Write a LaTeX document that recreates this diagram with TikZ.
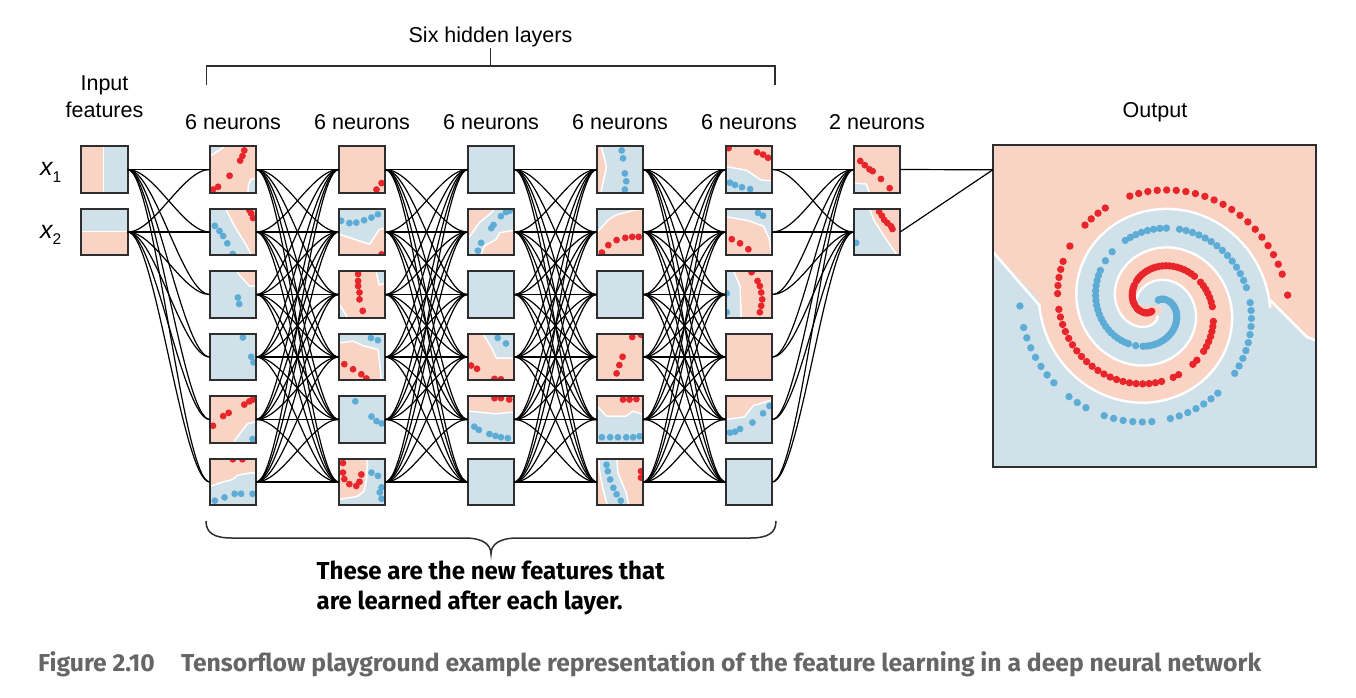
\documentclass[tikz,border=0pt]{standalone}
\usepackage{fontspec}
\setmainfont{Liberation Sans}
\newfontfamily\notefont{Fira Sans}
\usetikzlibrary{calc}
\definecolor{pch}{HTML}{F9D3C3}
\definecolor{lbl}{HTML}{D1E1EA}
\definecolor{dred}{HTML}{E8252A}
\definecolor{dblue}{HTML}{5CACD6}
\definecolor{bordc}{HTML}{2E2E2E}
\definecolor{capgray}{HTML}{666666}
\newcommand{\fmap}[5]{%
  \node[fmbox, fill=#4] (#1) at (#2,#3) {};
  \begin{scope}[shift={(#1.north west)}, x=46pt, y=-46pt]
    \clip (0,0) rectangle (1,1);
    #5
  \end{scope}
  \draw[bordr] (#1.north west) rectangle (#1.south east);
}
\newcommand{\rds}[1]{\foreach \u/\v in {#1} {\fill[dred] (\u,\v) circle[radius=3.4pt];}}
\newcommand{\bds}[1]{\foreach \u/\v in {#1} {\fill[dblue] (\u,\v) circle[radius=3.4pt];}}
\newcommand{\preg}[1]{\filldraw[fill=pch, draw=white, line width=1.5pt, line join=round] #1;}
\newcommand{\breg}[1]{\filldraw[fill=lbl, draw=white, line width=1.5pt, line join=round] #1;}
\begin{document}
\begin{tikzpicture}[x=1pt,y=-1pt,
  fmbox/.style={minimum width=46pt, minimum height=46pt, inner sep=0pt, draw=none},
  bordr/.style={draw=bordc, line width=1.8pt},
  link/.style={draw=black, line width=1.2pt},
  brk/.style={draw=bordc, line width=1.5pt},
  txt/.style={font=\fontsize{21.5}{25}\selectfont, inner sep=0pt, anchor=base}]
\useasboundingbox (0,0) rectangle (1356,697);
\fill[white] (0,0) rectangle (1356,697);

% ---------- labels ----------
\node[txt] (tsix) at (490.5,42) {Six hidden layers};
\node[txt] (tin1) at (104.5,90) {Input};
\node[txt] (tin2) at (104.5,117) {features};
\node[txt] (tout) at (1155,117) {Output};
\foreach \c/\xx in {1/233,2/362,3/491,4/620,5/749} {\node[txt] (tn\c) at (\xx,129) {6 neurons};}
\node[txt] (tn6) at (877,129) {2 neurons};
\node[txt, anchor=base west] (lx1) at (40,175.5) {\fontsize{25}{26}\selectfont\itshape x\raisebox{-6.5pt}{\fontsize{15.5}{15}\selectfont\upshape 1}};
\node[txt, anchor=base west] (lx2) at (40,238) {\fontsize{25}{26}\selectfont\itshape x\raisebox{-6.5pt}{\fontsize{15.5}{15}\selectfont\upshape 2}};

% ---------- brackets ----------
\draw[brk] (206.5,85) -- (206.5,66) -- (775,66) -- (775,85);
\draw[brk] (490.5,66) -- (490.5,48);
\draw[brk] (206,521) .. controls (206,533) and (214,538) .. (232,538) -- (465,538)
  .. controls (482,538) and (491,544) .. (491,554)
  .. controls (491,544) and (500,538) .. (517,538) -- (750,538)
  .. controls (768,538) and (776,533) .. (776,521);

\node[anchor=base west, inner sep=0pt] (note1) at (316.4,579) {\resizebox{348pt}{\height}{\notefont\bfseries\fontsize{24.5}{26}\selectfont These are the new features that}};
\node[anchor=base west, inner sep=0pt] (note2) at (316.4,609) {\resizebox{306pt}{\height}{\notefont\bfseries\fontsize{24.5}{26}\selectfont are learned after each layer.}};
\node[anchor=base west, inner sep=0pt, text=capgray] (cap) at (38,671) {\resizebox{1223pt}{\height}{\notefont\bfseries\fontsize{24.5}{26}\selectfont Figure 2.10\hspace{26pt}Tensorflow playground example representation of the feature learning in a deep neural network}};

% ---------- input ----------
\fmap{in1}{104.5}{169.5}{lbl}{\preg{(-0.1,-0.1) -- (0.48,-0.1) -- (0.48,1.1) -- (-0.1,1.1) -- cycle}}
\fmap{in2}{104.5}{232}{lbl}{\preg{(-0.1,0.49) -- (1.1,0.49) -- (1.1,1.1) -- (-0.1,1.1) -- cycle}}

% ---------- layer 1 ----------
\fmap{h11}{233}{169.5}{pch}{\breg{(-0.1,-0.1) -- (0.3,-0.1) -- (0.28,0.04) -- (0.04,0.19) -- (-0.1,0.22) -- cycle}
  \breg{(1.1,0.68) -- (0.89,0.72) -- (0.84,0.85) -- (0.82,1.1) -- (1.1,1.1) -- cycle}
  \rds{0.75/0.09,0.71/0.21,0.66/0.31,0.43/0.64,0.18/0.88,0.07/0.94}}
\fmap{h12}{233}{232}{lbl}{\preg{(0.33,-0.1) -- (1.1,-0.1) -- (1.1,1.1) -- (0.95,1.1) -- (0.8,0.8) -- (0.55,0.4) -- (0.37,0.05) -- cycle}
  \rds{0.86/0.03,0.9/0.1,0.94/0.2} \bds{0.11/0.37,0.21/0.48,0.29/0.59,0.38/0.75,0.5/0.98}}
\fmap{h13}{233}{294.5}{lbl}{\preg{(0.55,-0.1) -- (1.1,-0.1) -- (1.1,0.33) -- (0.86,0.32) -- (0.62,0.05) -- cycle}
  \bds{0.61/0.57,0.64/0.71}}
\fmap{h14}{233}{357}{lbl}{\bds{0.72/0.08,0.9/0.5,0.95/0.62}}
\fmap{h15}{233}{419.5}{pch}{\breg{(0.5,1.1) -- (0.55,0.95) -- (0.7,0.75) -- (0.82,0.6) -- (1.1,0.52) -- (1.1,1.1) -- cycle}
  \rds{0.07/0.64,0.29/0.43,0.41/0.36,0.75/0.18,0.86/0.11,0.94/0.07} \bds{0.93/0.93}}
\fmap{h16}{233}{482}{lbl}{\preg{(-0.1,-0.1) -- (1.1,-0.1) -- (1.1,0.33) -- (0.9,0.3) -- (0.6,0.36) -- (0.5,0.45) -- (0.3,0.5) -- (0,0.6) -- (-0.1,0.6) -- cycle}
  \rds{0.5/0.01,0.71/0.01} \bds{0.11/0.91,0.32/0.84,0.54/0.76,0.68/0.76,0.93/0.76}}

% ---------- layer 2 ----------
\fmap{h21}{362}{169.5}{pch}{\rds{0.93/0.8,0.82/0.94}}
\fmap{h22}{362}{232}{lbl}{\preg{(-0.1,0.55) -- (0,0.55) -- (0.67,0.77) -- (0.88,0.45) -- (1.1,0.4) -- (1.1,1.1) -- (-0.1,1.1) -- cycle}
  \bds{0.05/0.26,0.23/0.31,0.38/0.3,0.55/0.25,0.71/0.19,0.85/0.12} \rds{0.93/0.99}}
\fmap{h23}{362}{294.5}{pch}{\breg{(0.8,-0.1) -- (1.1,-0.1) -- (1.1,0.22) -- (0.88,0.3) -- (0.82,0.05) -- cycle}
  \breg{(-0.1,0.7) -- (0,0.7) -- (0.25,1.1) -- (-0.1,1.1) -- cycle}
  \rds{0.42/0.06,0.42/0.21,0.42/0.32,0.45/0.46,0.45/0.61,0.52/0.86}}
\fmap{h24}{362}{357}{pch}{\breg{(-0.1,-0.1) -- (1.1,-0.1) -- (1.1,1.1) -- (0.93,1.1) -- (0.89,0.66) -- (0.85,0.34) -- (0.56,0.27) -- (0.31,0.16) -- (0,0.2) -- (-0.1,0.2) -- cycle}
  \bds{0.7/0.09,0.85/0.14} \rds{0.12/0.66,0.31/0.77,0.49/0.88,0.6/0.97}}
\fmap{h25}{362}{419.5}{lbl}{\bds{0.36/0.11,0.71/0.44,0.82/0.54,0.93/0.59}}
\fmap{h26}{362}{482}{lbl}{\preg{(-0.1,-0.1) -- (0.6,-0.1) -- (0.62,0.1) -- (0.6,0.45) -- (0.55,0.7) -- (0.4,0.82) -- (0,0.88) -- (-0.1,0.88) -- cycle}
  \rds{0.09/0.09,0.09/0.3,0.12/0.44,0.23/0.55,0.38/0.59,0.45/0.5,0.49/0.34}
  \bds{0.71/0.3,0.85/0.37,0.93/0.62,0.89/0.73,0.93/0.87}}

% ---------- layer 3 ----------
\fmap{h31}{491}{169.5}{lbl}{}
\fmap{h32}{491}{232}{pch}{\breg{(-0.1,0.68) -- (0,0.66) -- (0.25,0.3) -- (0.54,0.06) -- (0.6,-0.1) -- (1.1,-0.1) -- (1.1,0.45) -- (0.69,0.52) -- (0.62,0.66) -- (0.36,0.81) -- (0.25,1.1) -- (-0.1,1.1) -- cycle}
  \bds{0.22/0.91,0.29/0.74,0.51/0.42,0.56/0.35,0.72/0.16,0.83/0.07,0.91/0.04}}
\fmap{h33}{491}{294.5}{lbl}{}
\fmap{h34}{491}{357}{pch}{\breg{(0.3,-0.1) -- (1.1,-0.1) -- (1.1,0.53) -- (0.62,0.53) -- (0.54,0.35) -- (0.33,0) -- cycle}
  \bds{0.65/0.09,0.83/0.21} \rds{0.07/0.69,0.2/0.76,0.58/0.98,0.72/0.99}}
\fmap{h35}{491}{419.5}{lbl}{\preg{(-0.1,-0.1) -- (1.1,-0.1) -- (1.1,0.33) -- (0.6,0.38) -- (0,0.32) -- (-0.1,0.32) -- cycle}
  \rds{0.58/0.04,0.72/0.04,0.9/0.07} \bds{0.14/0.66,0.24/0.73,0.47/0.82,0.6/0.86,0.72/0.89,0.87/0.91}}
\fmap{h36}{491}{482}{lbl}{}

% ---------- layer 4 ----------
\fmap{h41}{620}{169.5}{lbl}{\preg{(-0.1,-0.1) -- (0.07,-0.1) -- (0.21,0.44) -- (0.07,1.1) -- (-0.1,1.1) -- cycle}
  \bds{0.54/0.09,0.57/0.26,0.61/0.59,0.64/0.76,0.61/0.94}}
\fmap{h42}{620}{232}{lbl}{\preg{(-0.1,0.55) -- (0,0.52) -- (0.25,0.24) -- (0.43,0.13) -- (0.82,0.03) -- (1.1,0) -- (1.1,1.1) -- (-0.1,1.1) -- cycle}
  \rds{0.11/0.95,0.25/0.79,0.43/0.68,0.62/0.63,0.77/0.61,0.91/0.61}}
\fmap{h43}{620}{294.5}{lbl}{}
\fmap{h44}{620}{357}{pch}{\rds{0.96/0.02,0.77/0.07,0.56/0.5,0.49/0.68,0.43/0.86}}
\fmap{h45}{620}{419.5}{lbl}{\preg{(-0.1,-0.1) -- (1.1,-0.1) -- (1.1,0.43) -- (0.79,0.32) -- (0.64,0.43) -- (0.21,0.43) -- (0,0.21) -- (-0.1,0.21) -- cycle}
  \rds{0.57/0.07,0.71/0.07,0.86/0.06} \bds{0.11/0.89,0.29/0.89,0.46/0.89,0.64/0.89,0.79/0.89,0.93/0.87}}
\fmap{h46}{620}{482}{pch}{\breg{(0.05,-0.1) -- (0.43,-0.1) -- (0.46,0.31) -- (0.64,0.74) -- (0.71,1.1) -- (0.25,1.1) -- (0.12,0.6) -- (0.05,0.2) -- cycle}
  \bds{0.21/0.13,0.24/0.27,0.29/0.45,0.36/0.63,0.43/0.77,0.52/0.91} \rds{0.96/0.27,0.96/0.41}}

% ---------- layer 5 ----------
\fmap{h51}{749}{169.5}{pch}{\breg{(-0.1,0.42) -- (0.45,0.52) -- (0.76,0.73) -- (1.1,0.76) -- (1.1,1.1) -- (-0.1,1.1) -- cycle}
  \rds{0.06/0.04,0.68/0.13,0.81/0.18,0.92/0.25} \bds{0.09/0.79,0.2/0.84,0.35/0.89,0.53/0.93}}
\fmap{h52}{749}{232}{pch}{\breg{(-0.1,-0.1) -- (1.1,-0.1) -- (1.1,1.1) -- (1,1.1) -- (0.95,0.66) -- (0.82,0.38) -- (0.5,0.26) -- (0,0.17) -- (-0.1,0.17) -- cycle}
  \bds{0.7/0.09,0.81/0.15} \rds{0.13/0.66,0.31/0.75,0.49/0.88}}
\fmap{h53}{749}{294.5}{pch}{\breg{(-0.1,-0.1) -- (0.13,-0.1) -- (0.31,0.32) -- (0.34,1.1) -- (-0.1,1.1) -- cycle}
  \rds{0.56/0.02,0.69/0.21,0.74/0.32,0.77/0.46,0.79/0.61,0.77/0.75,0.74/0.89} \bds{0.02/0.48,0.02/0.89}}
\fmap{h54}{749}{357}{pch}{}
\fmap{h55}{749}{419.5}{lbl}{\preg{(-0.1,-0.1) -- (1.1,-0.1) -- (1.1,0.05) -- (0.6,0.2) -- (0.4,0.45) -- (0,0.5) -- (-0.1,0.5) -- cycle}
  \bds{0.09/0.79,0.2/0.77,0.31/0.71,0.58/0.57,0.81/0.37,0.95/0.21}}
\fmap{h56}{749}{482}{lbl}{}

% ---------- output layer ----------
\fmap{o1}{877}{169.5}{pch}{\breg{(-0.1,0.79) -- (0.27,0.82) -- (0.37,1.1) -- (-0.1,1.1) -- cycle}
  \rds{0.14/0.32,0.24/0.41,0.34/0.5,0.41/0.54,0.59/0.71,0.78/0.91}}
\fmap{o2}{877}{232}{lbl}{\preg{(0.32,-0.1) -- (1.1,-0.1) -- (1.1,1.1) -- (1,1.1) -- (0.66,0.6) -- (0.45,0.27) -- (0.34,0) -- cycle}
  \rds{0.55/0.06,0.61/0.15,0.66/0.24,0.73/0.31,0.81/0.38,0.84/0.44} \bds{0.05/0.74}}

% ---------- big output ----------
\node[minimum width=323pt, minimum height=322pt, inner sep=0pt, draw=none] (out) at (1154.5,306) {};
\begin{scope}
  \clip (out.north west) rectangle (out.south east);
  \fill[lbl] (out.north west) rectangle (out.south east);
  \fill[pch] (993,145) -- (1316,145) -- (1316,340) -- (1307,337) -- (1273,300) -- (1040,300) -- (993,252) -- cycle;
  \draw[pch, line width=38.5pt] plot[domain=0:1, samples=160, variable=\s]
     ({1154.5+134.6*\s*sin(180+630*\s)}, {306-134.6*\s*cos(180+630*\s)});
  \draw[white, line width=41pt, line join=round] plot[domain=0:1, samples=160, variable=\s]
     ({1154.5+134.6*\s*sin(630*\s)}, {306-134.6*\s*cos(630*\s)});
  \draw[lbl, line width=36pt, line join=round] plot[domain=0:1, samples=160, variable=\s]
     ({1154.5+134.6*\s*sin(630*\s)}, {306-134.6*\s*cos(630*\s)});
  \draw[lbl, line width=18pt] plot[domain=0.716:1.02, samples=60, variable=\s]
     ({1154.5+(134.6*\s+15)*sin(630*\s)}, {306-(134.6*\s+15)*cos(630*\s)});
  \draw[white, line width=2.5pt] (993,252) -- (1040,306);
  \draw[white, line width=2.5pt] (1270,300) -- (1307,337) -- (1320,342);
  \pgfmathsetseed{11}
  \foreach \i in {6,...,135} {
    \pgfmathsetmacro\s{\i/135}
    \pgfmathsetmacro\keep{rnd}
    \ifdim\keep pt<0.82pt
      \fill[dred] ({1154.5+134.6*\s*sin(180+630*\s)}, {306-134.6*\s*cos(180+630*\s)}) circle[radius=3.7];
    \fi
    \pgfmathsetmacro\keepb{rnd}
    \ifdim\keepb pt<0.82pt
      \fill[dblue] ({1154.5+134.6*\s*sin(630*\s)}, {306-134.6*\s*cos(630*\s)}) circle[radius=3.7];
    \fi
  }
\end{scope}
\draw[bordr] (out.north west) rectangle (out.south east);
\coordinate (oin) at ($(out.north west)+(0,25)$);

% ---------- connectors ----------
\foreach \a in {1,2} \foreach \b in {1,...,6}
  \draw[link] (in\a.east) .. controls +(27,0) and +(-27,0) .. (h1\b.west);
\foreach \c [evaluate=\c as \d using int(\c+1)] in {1,...,4}
  \foreach \a in {1,...,6} \foreach \b in {1,...,6}
    \draw[link] (h\c\a.east) .. controls +(27,0) and +(-27,0) .. (h\d\b.west);
\foreach \a in {1,...,6} \foreach \b in {1,2}
  \draw[link] (h5\a.east) .. controls +(27,0) and +(-27,0) .. (o\b.west);
\draw[link] (o1.east) -- (oin);
\draw[link] (o2.east) -- (oin);
\end{tikzpicture}
\end{document}
